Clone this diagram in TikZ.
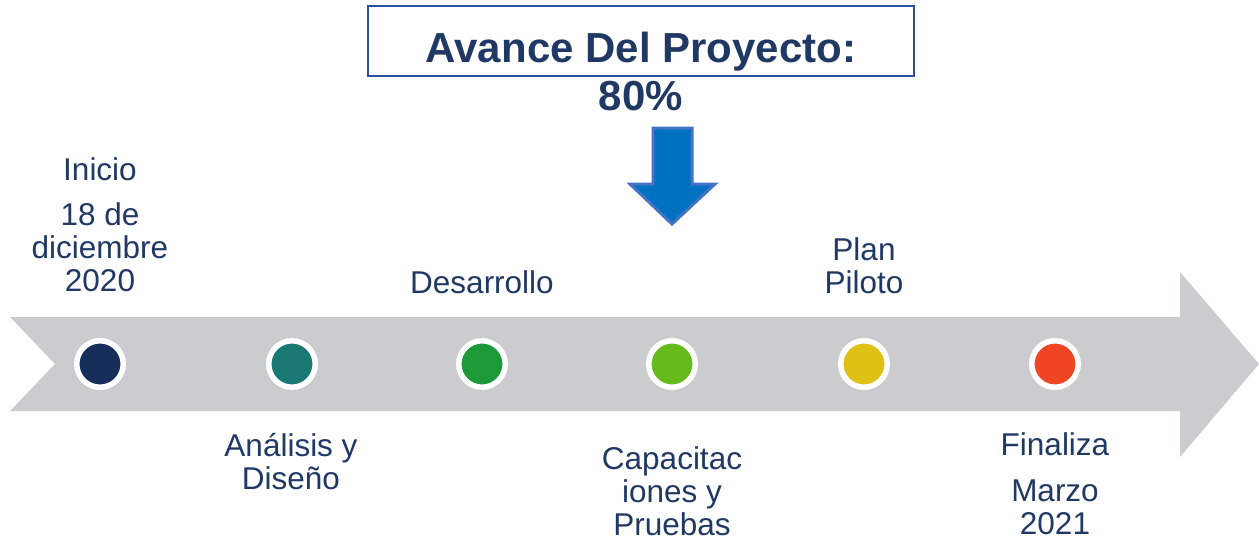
\documentclass[tikz,border=0pt]{standalone}
\usepackage{fontspec}
\setmainfont{Liberation Sans}
\usetikzlibrary{positioning}

\definecolor{textnavy}{HTML}{1F3864}
\definecolor{bandgray}{HTML}{CBCCD0}
\definecolor{boxblue}{HTML}{2A4F9C}
\definecolor{arrowfill}{HTML}{0070C0}
\definecolor{arrowline}{HTML}{4472C4}
\definecolor{hitoA}{HTML}{172D5A}
\definecolor{hitoB}{HTML}{1A7873}
\definecolor{hitoC}{HTML}{1C9A3A}
\definecolor{hitoD}{HTML}{65BA1C}
\definecolor{hitoE}{HTML}{E0C015}
\definecolor{hitoF}{HTML}{F04525}

\begin{document}
\begin{tikzpicture}[x=1pt, y=-1pt,
    %Option for the labels (base = last line)
    label/.style={text=textnavy, inner sep=0pt, align=center, anchor=base,
        font=\fontsize{31.5}{33}\selectfont},
    titletext/.style={text=textnavy, inner sep=0pt, align=center, anchor=base,
        font=\fontsize{42}{48}\selectfont\bfseries},
    hito/.style={circle, draw=white, line width=5.5pt, minimum size=46.5pt, inner sep=0pt},
    downarrow/.style={fill=arrowfill, draw=arrowline, line width=3pt, line join=miter},
]
    \useasboundingbox (0,0) rectangle (1259,541);

    % Timeline band
    \fill[bandgray] (10,317) -- (1180,317) -- (1180,272) -- (1259,364)
        -- (1180,457) -- (1180,411) -- (10,411) -- (55,364) -- cycle;

    % Title
    \draw[boxblue, line width=2pt] (368,6) rectangle (914,76);
    \node[titletext] (avance) at (641,62) {Avance Del Proyecto:};
    \node[titletext] (porcentaje) at (641,110) {80\%};

    % Progress pointer
    \draw[downarrow] (653,128) -- (692,128) -- (692,184) -- (715,184)
        -- (672,224) -- (630,184) -- (653,184) -- cycle;

    % Milestones
    \foreach \c/\x [count=\i] in {hitoA/100, hitoB/292, hitoC/482, hitoD/672, hitoE/864, hitoF/1055}
        \node[hito, fill=\c] (h\i) at (\x,364) {};

    % Labels above the band
    \node[label] (inicio) at (100,180) {Inicio};
    \node[label] (fechaini) at (100,291) {18 de\\diciembre\\2020};
    \node[label] (desarrollo) at (482,293) {Desarrollo};
    \node[label] (piloto) at (864,293) {Plan\\Piloto};

    % Labels below the band
    \node[label] (analisis) at (291,489) {Análisis y\\Diseño};
    \node[label] (capacitacion) at (672,535) {Capacitac\\iones y\\Pruebas};
    \node[label] (finaliza) at (1055,455) {Finaliza};
    \node[label] (fechafin) at (1055,534) {Marzo\\2021};
\end{tikzpicture}
\end{document}
